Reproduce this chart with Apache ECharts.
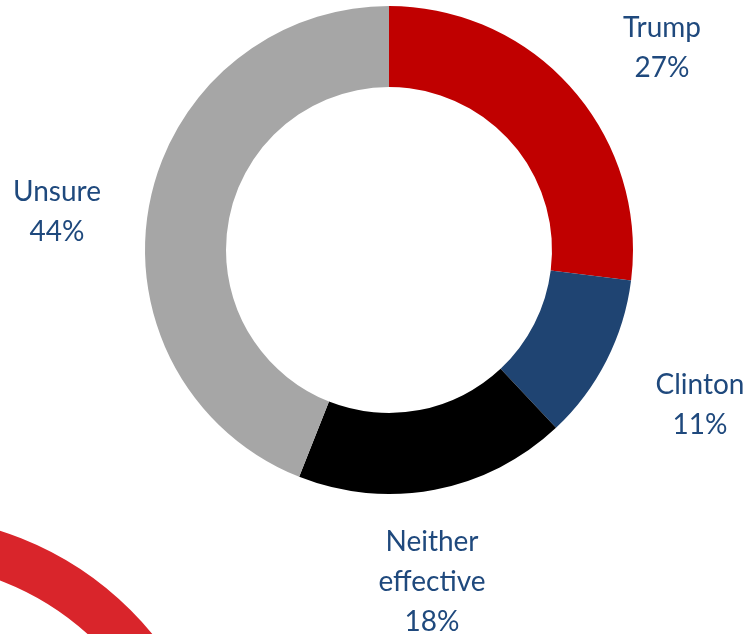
<!DOCTYPE html>
<html>
<head>
<meta charset="utf-8">
<script src="https://cdn.jsdelivr.net/npm/echarts@6/dist/echarts.min.js"></script>
<style>
  html, body { margin: 0; padding: 0; background: #fff; }
  #chart { width: 747px; height: 634px; }
</style>
</head>
<body>
<div id="chart"></div>
<script>
var categories = ['Trump', 'Clinton', 'Neither\neffective', 'Unsure'];
var shares = [27, 11, 18, 44];
var colors = ['#C00000', '#1F4472', '#000000', '#A6A6A6'];

// where each label block is centred (label placement only)
var labelAnchors = [[662, 48], [700, 405], [432, 582], [57, 212]];

var chart = echarts.init(document.getElementById('chart'));

var option = {
    animation: false,
    backgroundColor: '#fff',
    graphic: [
        {
            // decorative red ring in the corner
            type: 'arc',
            silent: true,
            z: 0,
            shape: { cx: -98, cy: 839, r: 300, startAngle: -Math.PI / 2, endAngle: 0 },
            style: { stroke: '#D9252B', lineWidth: 47, fill: null }
        }
    ],
    series: [
        {
            type: 'pie',
            center: [389, 250],
            radius: [163, 244],
            startAngle: 90,
            clockwise: true,
            label: {
                show: true,
                position: 'outside',
                formatter: function (p) { return p.name + '\n' + p.value + '%'; },
                fontFamily: 'Lato',
                fontSize: 28,
                lineHeight: 40,
                color: '#1F497D',
                align: 'center',
                overflow: 'none'
            },
            labelLine: { show: false },
            labelLayout: function (p) {
                var a = labelAnchors[p.dataIndex];
                return { x: a[0], y: a[1], align: 'center', verticalAlign: 'middle', width: 200 };
            },
            emphasis: { disabled: true },
            data: categories.map(function (c, i) {
                return { name: c, value: shares[i], itemStyle: { color: colors[i] } };
            })
        }
    ]
};

chart.setOption(option);
</script>
</body>
</html>
